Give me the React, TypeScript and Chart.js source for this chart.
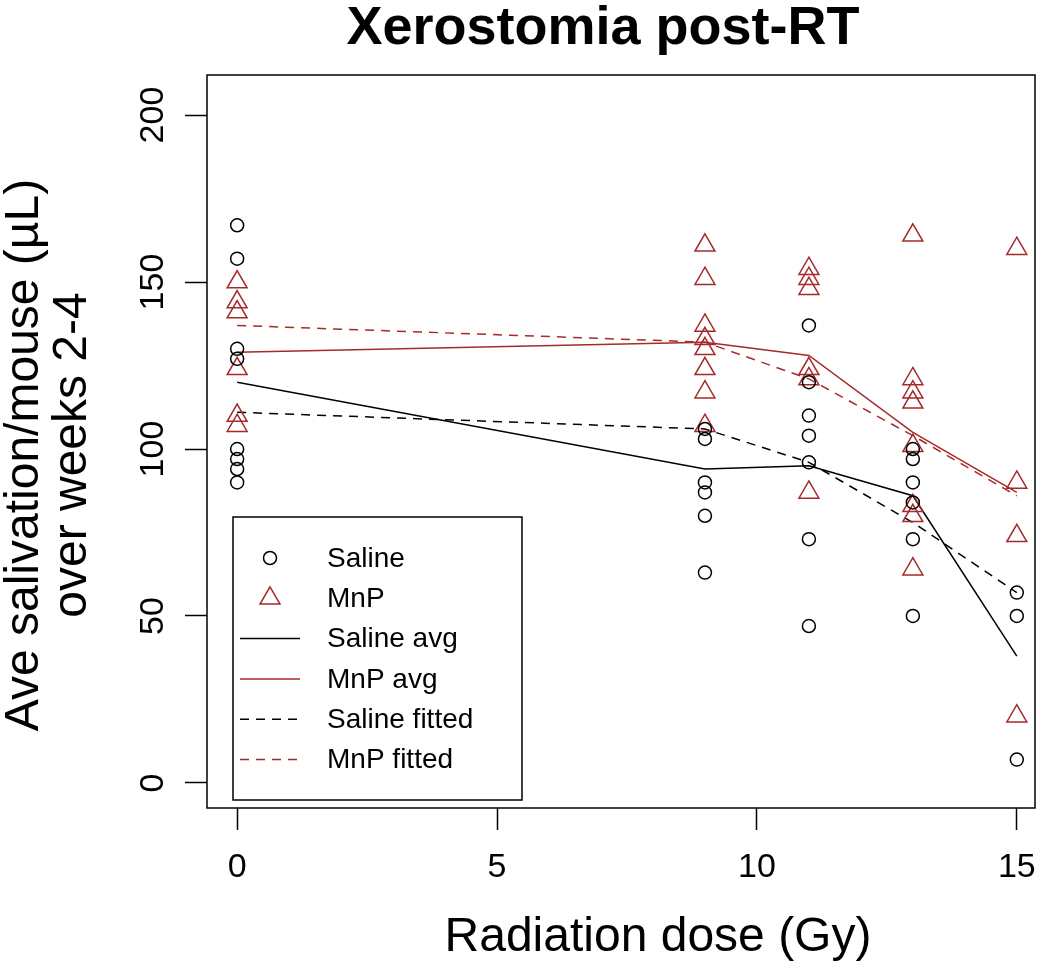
import React, { useEffect, useRef } from "react";
import { Chart, registerables } from "chart.js";

Chart.register(...registerables);

// ---------- data ----------
const doses = [0, 9, 11, 13, 15];
const xTickValues = [0, 5, 10, 15];
const yTickValues = [0, 50, 100, 150, 200];

const salineAt0 = [167, 157, 130, 127, 100, 97, 94, 90];
const salineAt9 = [106, 103, 90, 87, 80, 63];
const salineAt11 = [137, 120, 110, 104, 96, 73, 47];
const salineAt13 = [100, 97, 90, 84, 73, 50];
const salineAt15 = [57, 50, 7];

const mnpAt0 = [150, 144, 141, 124, 110, 107];
const mnpAt9 = [161, 151, 137, 133, 130, 124, 117, 107];
const mnpAt11 = [154, 151, 148, 124, 121, 87];
const mnpAt13 = [164, 121, 117, 114, 101, 83, 80, 64];
const mnpAt15 = [160, 90, 74, 20];

const salineAvg = [120, 94, 95, 86, 38];
const mnpAvg = [129, 132, 128, 105, 87];
const salineFitted = [111, 106, 96, 78, 57];
const mnpFitted = [137, 132, 121, 104, 86];

const titleText = "Xerostomia post-RT";
const xTitle = "Radiation dose (Gy)";
const yTitle1 = "Ave salivation/mouse (µL)";
const yTitle2 = "over weeks 2-4";
const legendLabels = ["Saline", "MnP", "Saline avg", "MnP avg", "Saline fitted", "MnP fitted"];

// ---------- styles ----------
const RED = "#A52A2A";
const FONT = '"Liberation Sans", Arial, sans-serif';

const salineGroups = [salineAt0, salineAt9, salineAt11, salineAt13, salineAt15];
const mnpGroups = [mnpAt0, mnpAt9, mnpAt11, mnpAt13, mnpAt15];

function toPoints(groups: number[][]) {
  const out: { x: number; y: number }[] = [];
  groups.forEach((g, i) => g.forEach((v) => out.push({ x: doses[i], y: v })));
  return out;
}
function toLine(vals: number[]) {
  return vals.map((v, i) => ({ x: doses[i], y: v }));
}

const overlay = {
  id: "overlay",
  afterDraw(chart: any) {
    const ctx = chart.ctx as CanvasRenderingContext2D;
    const { chartArea, scales } = chart;
    ctx.save();
    // box
    ctx.strokeStyle = "#000";
    ctx.lineWidth = 1.5;
    ctx.strokeRect(chartArea.left, chartArea.top, chartArea.right - chartArea.left, chartArea.bottom - chartArea.top);

    ctx.fillStyle = "#000";
    // title
    ctx.font = `bold 54px ${FONT}`;
    ctx.textAlign = "center";
    ctx.textBaseline = "alphabetic";
    ctx.fillText(titleText, 603, 44);

    // x tick labels
    ctx.font = `34px ${FONT}`;
    scales.x.ticks.forEach((t: any) => {
      ctx.fillText(String(t.value), scales.x.getPixelForValue(t.value), 877);
    });
    // y tick labels (rotated)
    scales.y.ticks.forEach((t: any) => {
      const p = scales.y.getPixelForValue(t.value);
      ctx.save();
      ctx.translate(163, p);
      ctx.rotate(-Math.PI / 2);
      ctx.textAlign = "center";
      ctx.fillText(String(t.value), 0, 0);
      ctx.restore();
    });
    // axis titles
    ctx.font = `48px ${FONT}`;
    ctx.fillText(xTitle, 658, 951);
    ctx.save();
    ctx.translate(38, 455);
    ctx.rotate(-Math.PI / 2);
    ctx.textAlign = "center";
    ctx.fillText(yTitle1, 0, 0);
    ctx.fillText(yTitle2, 0, 48);
    ctx.restore();

    // legend
    const lx = 233, ly = 517, lw = 289, lh = 283;
    ctx.lineWidth = 1.5;
    ctx.strokeStyle = "#000";
    ctx.fillStyle = "#fff";
    ctx.fillRect(lx, ly, lw, lh);
    ctx.strokeRect(lx, ly, lw, lh);
    const rowY0 = 558, rowStep = 40.3;
    const symX = 270;
    ctx.font = `28px ${FONT}`;
    ctx.textAlign = "left";
    ctx.textBaseline = "middle";
    chart.data.datasets.forEach((ds: any, i: number) => {
      const y = rowY0 + i * rowStep;
      ctx.save();
      ctx.strokeStyle = ds.borderColor;
      ctx.lineWidth = ds.borderWidth;
      if (ds.showLine) {
        ctx.setLineDash(ds.borderDash || []);
        ctx.beginPath();
        ctx.moveTo(symX - 30, y);
        ctx.lineTo(symX + 30, y);
        ctx.stroke();
      } else if (ds.pointStyle === "triangle") {
        const r = ds.pointRadius;
        ctx.beginPath();
        for (let k = 0; k < 3; k++) {
          const a = (k * 2 * Math.PI) / 3;
          const px = symX + Math.sin(a) * r;
          const py = y - Math.cos(a) * r;
          if (k === 0) ctx.moveTo(px, py);
          else ctx.lineTo(px, py);
        }
        ctx.closePath();
        ctx.stroke();
      } else {
        ctx.beginPath();
        ctx.arc(symX, y, ds.pointRadius, 0, Math.PI * 2);
        ctx.stroke();
      }
      ctx.restore();
      ctx.fillStyle = "#000";
      ctx.fillText(ds.label, 327, y + 1);
    });
    ctx.restore();
  },
};

export default function App() {
  const ref = useRef<HTMLCanvasElement | null>(null);
  useEffect(() => {
    document.body.style.margin = "0";
    const canvas = ref.current;
    if (!canvas) return;
    const chart = new Chart(canvas, {
      type: "scatter",
      data: {
        datasets: [
          {
            label: legendLabels[0],
            data: toPoints(salineGroups),
            pointStyle: "circle",
            pointRadius: 6.5,
            borderColor: "#000",
            backgroundColor: "rgba(0,0,0,0)",
            borderWidth: 1.5,
            showLine: false,
          },
          {
            label: legendLabels[1],
            data: toPoints(mnpGroups),
            pointStyle: "triangle",
            pointRadius: 11.5,
            borderColor: RED,
            backgroundColor: "rgba(0,0,0,0)",
            borderWidth: 1.5,
            showLine: false,
          },
          {
            label: legendLabels[2],
            data: toLine(salineAvg),
            showLine: true,
            pointRadius: 0,
            borderColor: "#000",
            borderWidth: 1.5,
          },
          {
            label: legendLabels[3],
            data: toLine(mnpAvg),
            showLine: true,
            pointRadius: 0,
            borderColor: RED,
            borderWidth: 1.5,
          },
          {
            label: legendLabels[4],
            data: toLine(salineFitted),
            showLine: true,
            pointRadius: 0,
            borderColor: "#000",
            borderWidth: 1.5,
            borderDash: [9, 7],
          },
          {
            label: legendLabels[5],
            data: toLine(mnpFitted),
            showLine: true,
            pointRadius: 0,
            borderColor: RED,
            borderWidth: 1.5,
            borderDash: [9, 7],
          },
        ],
      } as any,
      options: {
        animation: false,
        responsive: false,
        devicePixelRatio: 1,
        layout: { padding: { left: 0, top: 75, right: 15, bottom: 0 } },
        plugins: {
          legend: { display: false },
          tooltip: { enabled: false },
          title: { display: false },
        },
        elements: { line: { tension: 0 } },
        scales: {
          x: {
            type: "linear",
            min: -0.58,
            max: 15.35,
            afterBuildTicks: (axis: any) => {
              axis.ticks = xTickValues.map((v) => ({ value: v }));
            },
            afterFit: (axis: any) => {
              axis.height = 155;
            },
            ticks: { display: false },
            grid: {
              drawOnChartArea: false,
              drawTicks: true,
              tickLength: 22,
              tickWidth: 1.5,
              tickColor: "#000",
            },
            border: { display: false },
          },
          y: {
            type: "linear",
            min: -7.5,
            max: 212,
            afterBuildTicks: (axis: any) => {
              axis.ticks = yTickValues.map((v) => ({ value: v }));
            },
            afterFit: (axis: any) => {
              axis.width = 207;
            },
            ticks: { display: false },
            grid: {
              drawOnChartArea: false,
              drawTicks: true,
              tickLength: 22,
              tickWidth: 1.5,
              tickColor: "#000",
            },
            border: { display: false },
          },
        },
      } as any,
      plugins: [overlay],
    });
    return () => chart.destroy();
  }, []);
  return (
    <div style={{ position: "absolute", left: 0, top: 0, width: 1050, height: 963, background: "#fff" }}>
      <canvas ref={ref} width={1050} height={963} style={{ display: "block" }} />
    </div>
  );
}
